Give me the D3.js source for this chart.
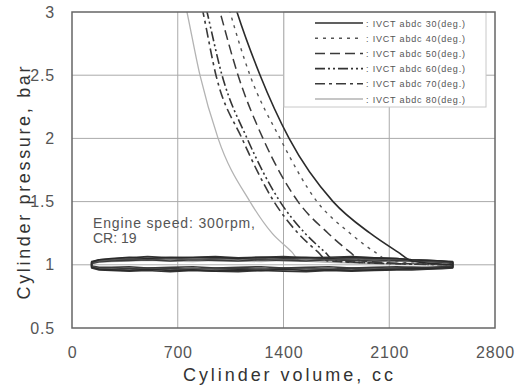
<!DOCTYPE html>
<html>
<head>
<meta charset="utf-8">
<script src="https://cdn.jsdelivr.net/npm/d3@7"></script>
<style>
  body { margin: 0; background: #fff; }
  svg { display: block; font-family: "Liberation Sans", Arial, sans-serif; }
</style>
</head>
<body>
<svg id="chart" width="515" height="387"></svg>
<script>
/*** DATA ***/
const xTicks = [0, 700, 1400, 2100, 2800];
const yTicks = [0.5, 1, 1.5, 2, 2.5, 3];
const labels = ["IVCT abdc 30(deg.)", "IVCT abdc 40(deg.)", "IVCT abdc 50(deg.)",
                "IVCT abdc 60(deg.)", "IVCT abdc 70(deg.)", "IVCT abdc 80(deg.)"];

// compression branch: pressure levels and volume (cc) read for each case
const pLevels = [1.0, 1.03, 1.1, 1.25, 1.5, 2, 2.5, 3, 3.2];
const v30 = [2520, 2250, 2158, 1973, 1728, 1437, 1245, 1092, 1040];
const v40 = [2520, 2105, 2006, 1840, 1622, 1377, 1178, 1046, 1000];
const v50 = [2520, 1920, 1840, 1695, 1496, 1264, 1099, 980, 935];
const v60 = [2520, 1741, 1675, 1542, 1377, 1159, 993, 894, 855];
const v70 = [2520, 1695, 1629, 1496, 1337, 1125, 953, 867, 830];
const v80 = [2520, 1509, 1456, 1324, 1178, 967, 847, 761, 725];

// gas exchange loop (exhaust = upper, intake = lower)
const loopV = [130, 180, 260, 380, 500, 650, 800, 950, 1100, 1250, 1400, 1550, 1700, 1850, 2000, 2150, 2250, 2350, 2450, 2520];
const up30 = [1.02, 1.04, 1.05, 1.06, 1.05, 1.06, 1.055, 1.06, 1.05, 1.06, 1.055, 1.06, 1.05, 1.06, 1.055, 1.05, 1.04, 1.035, 1.03, 1.02];
const lo30 = [0.98, 0.965, 0.96, 0.955, 0.965, 0.955, 0.96, 0.95, 0.96, 0.955, 0.965, 0.955, 0.96, 0.955, 0.96, 0.965, 0.97, 0.97, 0.975, 0.98];
const up40 = [1.015, 1.03, 1.04, 1.05, 1.045, 1.05, 1.04, 1.05, 1.045, 1.05, 1.04, 1.05, 1.045, 1.05, 1.04, 1.045, 1.035, 1.03, 1.025, 1.015];
const lo40 = [0.985, 0.97, 0.965, 0.96, 0.97, 0.96, 0.97, 0.965, 0.96, 0.97, 0.96, 0.97, 0.965, 0.96, 0.97, 0.965, 0.97, 0.97, 0.975, 0.98];
const up50 = [1.02, 1.03, 1.035, 1.045, 1.04, 1.05, 1.04, 1.045, 1.05, 1.04, 1.045, 1.05, 1.04, 1.045, 1.05, 1.04, 1.035, 1.03, 1.025, 1.02];
const lo50 = [0.985, 0.975, 0.975, 0.97, 0.975, 0.97, 0.965, 0.975, 0.97, 0.965, 0.975, 0.97, 0.965, 0.975, 0.97, 0.975, 0.98, 0.975, 0.98, 0.985];
const up60 = [1.025, 1.04, 1.045, 1.055, 1.065, 1.055, 1.06, 1.065, 1.055, 1.06, 1.065, 1.055, 1.06, 1.065, 1.055, 1.05, 1.04, 1.035, 1.03, 1.025];
const lo60 = [0.975, 0.96, 0.955, 0.95, 0.955, 0.945, 0.955, 0.95, 0.945, 0.955, 0.95, 0.945, 0.955, 0.95, 0.955, 0.96, 0.96, 0.965, 0.97, 0.975];
const up70 = [1.01, 1.025, 1.03, 1.035, 1.04, 1.03, 1.04, 1.035, 1.03, 1.04, 1.035, 1.03, 1.04, 1.035, 1.03, 1.035, 1.03, 1.025, 1.02, 1.01];
const lo70 = [0.99, 0.98, 0.98, 0.985, 0.975, 0.98, 0.985, 0.975, 0.98, 0.985, 0.975, 0.98, 0.985, 0.975, 0.98, 0.985, 0.98, 0.98, 0.985, 0.99];
const up80 = [1.01, 1.02, 1.025, 1.03, 1.035, 1.03, 1.025, 1.035, 1.03, 1.025, 1.035, 1.03, 1.025, 1.035, 1.03, 1.03, 1.025, 1.025, 1.02, 1.015];
const lo80 = [0.985, 0.97, 0.965, 0.97, 0.96, 0.965, 0.97, 0.96, 0.965, 0.97, 0.96, 0.965, 0.97, 0.96, 0.965, 0.97, 0.97, 0.975, 0.98, 0.985];

const compVols = [v30, v40, v50, v60, v70, v80];
const loopUp = [up30, up40, up50, up60, up70, up80];
const loopLo = [lo30, lo40, lo50, lo60, lo70, lo80];

// line styles per case
const strokes = ["#2b2b2b", "#555", "#3a3a3a", "#333", "#3a3a3a", "#b3b3b3"];
const dashes = [null, "3,5", "10,5", "10,3,2,3,2,3", "10,4,3,4", null];
const widths = [1.6, 1.4, 1.5, 1.6, 1.6, 1.3];

/*** SETUP ***/
const svg = d3.select("#chart");
const mLeft = 72, mRight = 495, mTop = 12, mBottom = 328;

const x = d3.scaleLinear().domain([0, 2800]).range([mLeft, mRight]);
const y = d3.scaleLinear().domain([0.5, 3]).range([mBottom, mTop]);

// grid
svg.append("g")
  .selectAll("line")
  .data(xTicks.slice(1, -1))
  .join("line")
    .attr("x1", d => x(d)).attr("x2", d => x(d))
    .attr("y1", mTop).attr("y2", mBottom)
    .attr("stroke", "#aaa").attr("stroke-width", 1);

svg.append("g")
  .selectAll("line")
  .data(yTicks.slice(1, -1))
  .join("line")
    .attr("x1", mLeft).attr("x2", mRight)
    .attr("y1", d => y(d)).attr("y2", d => y(d))
    .attr("stroke", "#aaa").attr("stroke-width", 1);

// axes (labels only)
const xAxis = svg.append("g")
  .attr("transform", `translate(0,${mBottom})`)
  .call(d3.axisBottom(x).tickValues(xTicks).tickSize(0).tickPadding(19).tickFormat(d3.format("d")));
const yAxis = svg.append("g")
  .attr("transform", `translate(${mLeft},0)`)
  .call(d3.axisLeft(y).tickValues(yTicks).tickSize(0).tickPadding(17).tickFormat(d => d));
[xAxis, yAxis].forEach(a => {
  a.select(".domain").remove();
  a.selectAll("text")
    .attr("fill", "#555")
    .style("font-size", "16px")
    .style("font-family", "'Liberation Sans', Arial, sans-serif")
    .style("letter-spacing", "0.8px");
});

// clip
svg.append("clipPath").attr("id", "plotClip")
  .append("rect").attr("x", mLeft).attr("y", mTop)
  .attr("width", mRight - mLeft).attr("height", mBottom - mTop);

const plot = svg.append("g").attr("clip-path", "url(#plotClip)");

const compLine = d3.line()
  .x(d => x(d[0])).y(d => y(d[1]))
  .curve(d3.curveMonotoneX);
const loopLine = d3.line()
  .x(d => x(d[0])).y(d => y(d[1]));

// draw from 80 down to 30 so dark lines sit on top
for (let i = 5; i >= 0; i--) {
  const comp = compVols[i].map((v, k) => [v, pLevels[k]]).sort((a, b) => a[0] - b[0]);
  const loop = loopV.map((v, k) => [v, loopUp[i][k]])
    .concat(loopV.slice().reverse().map((v, k) => [v, loopLo[i][loopV.length - 1 - k]]));

  plot.append("path")
    .attr("d", loopLine(loop) + "Z")
    .attr("fill", "none")
    .attr("stroke", strokes[i])
    .attr("stroke-width", widths[i])
    .attr("stroke-linejoin", "round");

  plot.append("path")
    .attr("d", compLine(comp))
    .attr("fill", "none")
    .attr("stroke", strokes[i])
    .attr("stroke-width", widths[i])
    .attr("stroke-dasharray", dashes[i]);
}

// legend box
svg.append("rect")
  .attr("x", 284).attr("y", mTop).attr("width", 202).attr("height", 95)
  .attr("fill", "#fff").attr("stroke", "#c8c8c8").attr("stroke-width", 1);

const legend = svg.append("g").selectAll("g")
  .data(labels)
  .join("g")
    .attr("transform", (d, i) => `translate(0,${23 + i * 15.2})`);
legend.append("line")
  .attr("x1", 315).attr("x2", 363)
  .attr("stroke", (d, i) => strokes[i])
  .attr("stroke-width", (d, i) => widths[i])
  .attr("stroke-dasharray", (d, i) => dashes[i]);
legend.append("text")
  .attr("x", 366).attr("y", 3.5)
  .attr("fill", "#555")
  .style("font-size", "9px")
  .attr("textLength", 99).attr("lengthAdjust", "spacing")
  .text(d => ": " + d);

// frame
svg.append("rect")
  .attr("x", mLeft).attr("y", mTop)
  .attr("width", mRight - mLeft).attr("height", mBottom - mTop)
  .attr("fill", "none").attr("stroke", "#666").attr("stroke-width", 1.5);

// annotation
svg.append("text").attr("x", 93).attr("y", 228)
  .attr("fill", "#555").style("font-size", "14px")
  .attr("textLength", 162).attr("lengthAdjust", "spacing")
  .text("Engine speed: 300rpm,");
svg.append("text").attr("x", 93).attr("y", 243)
  .attr("fill", "#555").style("font-size", "14px")
  .text("CR: 19");

// axis titles
svg.append("text")
  .attr("x", 288).attr("y", 381)
  .attr("text-anchor", "middle")
  .attr("fill", "#333").style("font-size", "18px")
  .attr("textLength", 210).attr("lengthAdjust", "spacing")
  .text("Cylinder volume, cc");
svg.append("text")
  .attr("transform", "translate(30,183) rotate(-90)")
  .attr("text-anchor", "middle")
  .attr("fill", "#333").style("font-size", "18px")
  .attr("textLength", 233).attr("lengthAdjust", "spacing")
  .text("Cylinder pressure, bar");
</script>
</body>
</html>
